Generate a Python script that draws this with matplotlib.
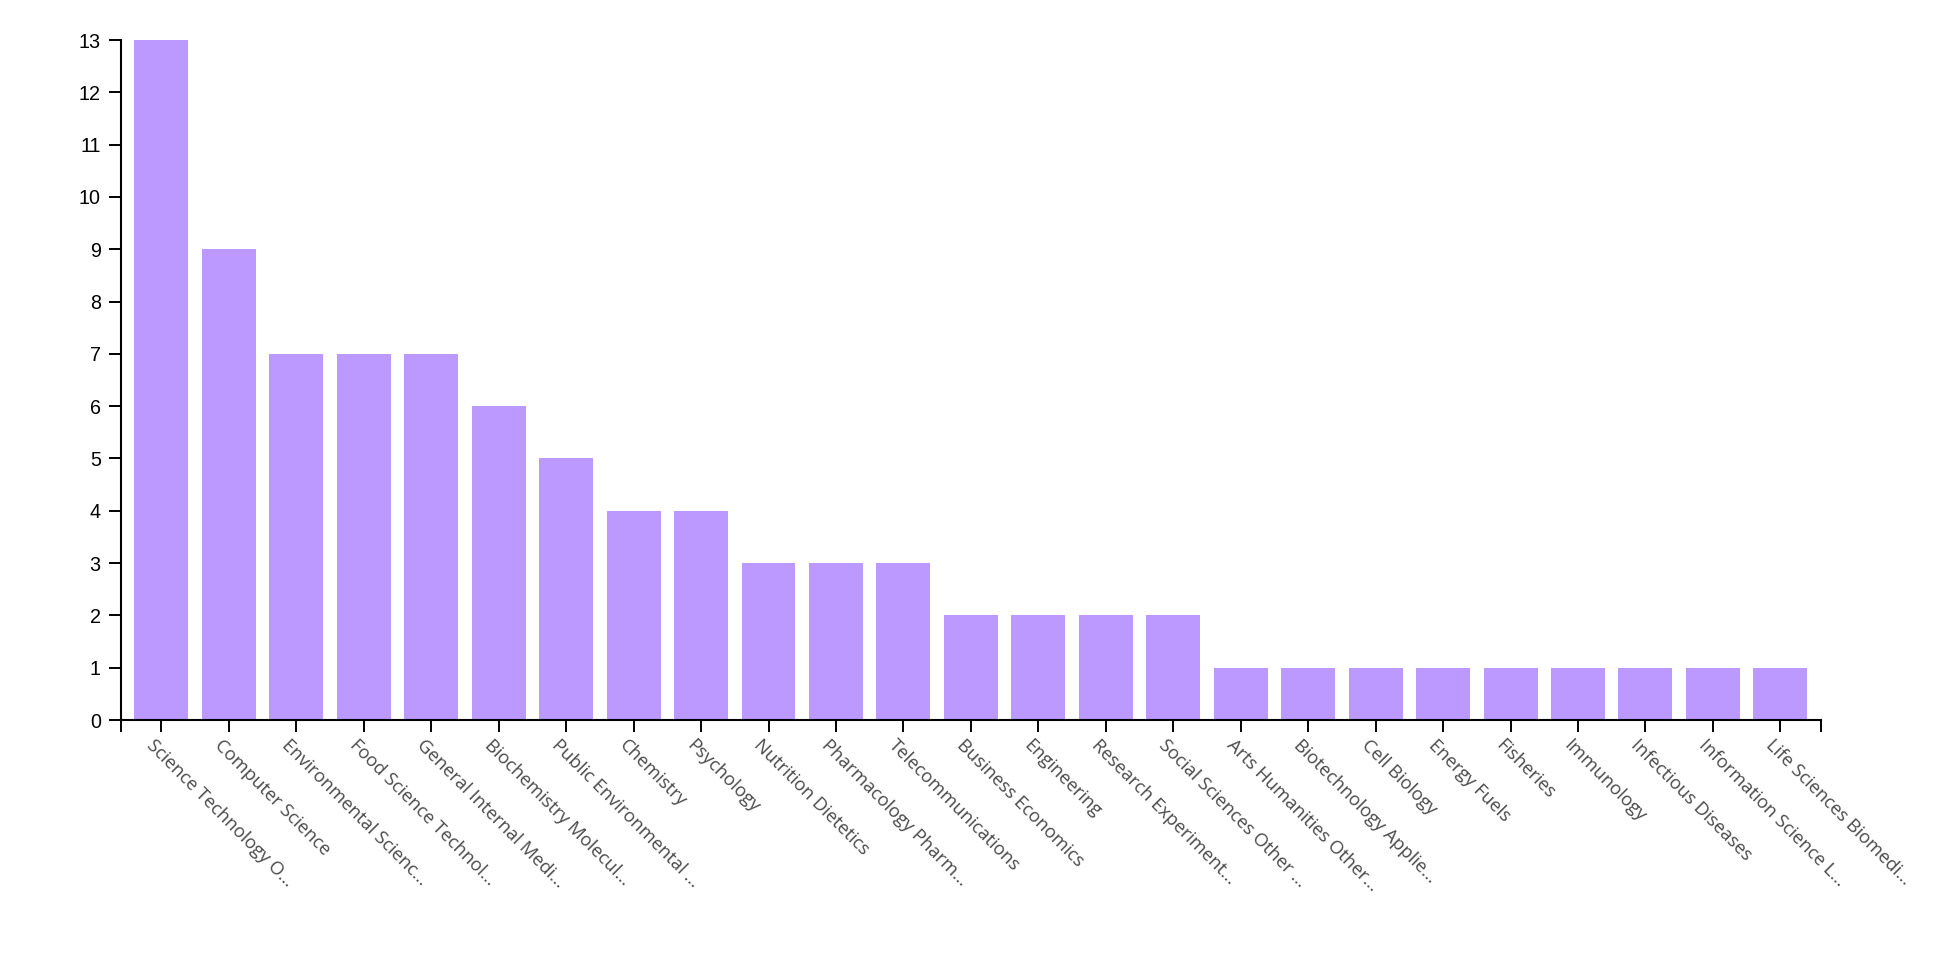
import matplotlib
matplotlib.use('Agg')
import matplotlib.pyplot as plt

# categories and counts
categories = [
    'Science Technology O…', 'Computer Science', 'Environmental Scienc…',
    'Food Science Technol…', 'General Internal Medi…', 'Biochemistry Molecul…',
    'Public Environmental …', 'Chemistry', 'Psychology', 'Nutrition Dietetics',
    'Pharmacology Pharm…', 'Telecommunications', 'Business Economics',
    'Engineering', 'Research Experiment…', 'Social Sciences Other …',
    'Arts Humanities Other…', 'Biotechnology Applie…', 'Cell Biology',
    'Energy Fuels', 'Fisheries', 'Immunology', 'Infectious Diseases',
    'Information Science L…', 'Life Sciences Biomedi…',
]
counts = [13, 9, 7, 7, 7, 6, 5, 4, 4, 3, 3, 3, 2, 2, 2, 2,
          1, 1, 1, 1, 1, 1, 1, 1, 1]
yticks = list(range(0, 14))

fig = plt.figure(figsize=(19.6, 9.6), dpi=100)
ax = fig.add_axes([0.0617, 0.25, 0.8673, 0.7083])

x = list(range(len(categories)))
ax.bar(x, counts, width=0.8, color='#bb99ff', edgecolor='none')

xmin, xmax = -0.6, len(categories) - 0.4
ax.set_xlim(xmin, xmax)
ax.set_ylim(0, 13)

for s in ['top', 'right']:
    ax.spines[s].set_visible(False)
for s in ['left', 'bottom']:
    ax.spines[s].set_linewidth(1.5)
    ax.spines[s].set_color('black')

ax.set_yticks(yticks)
ax.set_yticklabels([str(v) for v in yticks], fontsize=14.2,
                   family='Liberation Sans')
ax.tick_params(axis='y', length=8.5, width=1.4, pad=6)

ax.set_xticks(x)
ax.set_xticklabels([])
ax.tick_params(axis='x', length=8.5, width=1.4)

# outer ticks at both ends of the x domain line
ax.set_xticks([xmin, xmax], minor=True)
ax.tick_params(axis='x', which='minor', length=8.5, width=1.4)

# rotated category labels, nudged a bit left of the tick
for i, name in zip(x, categories):
    ax.annotate(name, xy=(i, 0), xytext=(-3.8, -11.5),
                textcoords='offset points', rotation=-45,
                ha='left', va='top', rotation_mode='anchor',
                fontsize=13.2, family='Open Sans', color='#4a4a4a',
                annotation_clip=False)

fig.savefig('out.png', dpi=100)
